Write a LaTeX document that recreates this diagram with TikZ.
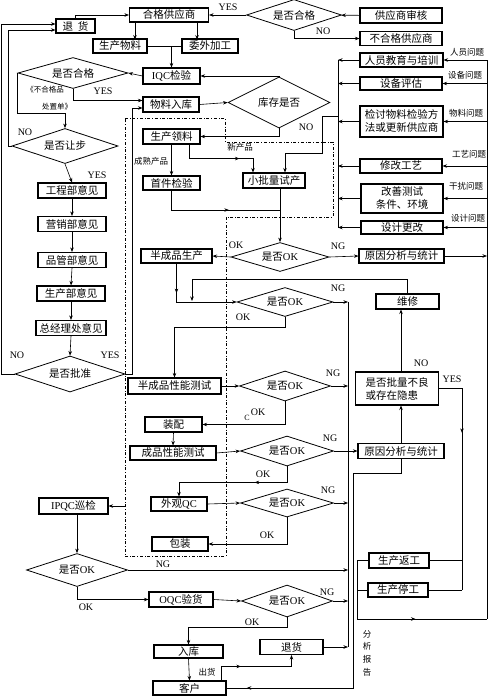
\documentclass[tikz,border=0pt]{standalone}
\usepackage{fontspec}
\setmainfont{Liberation Serif}
\newfontfamily\cjk{Noto Sans CJK SC}
\usetikzlibrary{positioning, arrows.meta, shapes.geometric, calc, decorations.markings}
\newcommand{\ltn}[1]{{\rmfamily #1}}

\begin{document}
\begin{tikzpicture}[x=1pt, y=-1pt,
    box/.style={rectangle, draw=black, line width=1.1pt, inner sep=1pt,
                minimum height=14pt, font=\cjk\fontsize{10.5}{13}\selectfont},
    dia/.style={diamond, draw=black, line width=0.8pt, inner sep=0pt, aspect=3.5,
                font=\cjk\fontsize{10.5}{13}\selectfont},
    arrow/.style={-{Stealth[length=4.5pt, width=3.5pt]}, line width=0.6pt},
    line/.style={line width=0.6pt},
    mid/.style={postaction={decorate}, decoration={markings,
                mark=at position #1 with {\arrow{Stealth[length=4.5pt, width=3.5pt]}}}},
    mid/.default=0.5,
    tag/.style={inner sep=0pt, font=\fontsize{10}{12}\selectfont},
    note/.style={inner sep=0pt, font=\cjk\fontsize{8.5}{10}\selectfont},
    frame/.style={dash dot, line width=0.7pt}
]
\useasboundingbox (0,0) rectangle (500,696);

    % === Suppliers and incoming inspection ===
    \node[box, minimum width=39pt] (thA) at (75.5,26) {退\hspace{5pt}货};
    \node[box, minimum width=79pt] (hgs) at (169,15) {合格供应商};
    \node[dia, minimum width=95pt, minimum height=31pt] (sfhg1) at (294,15) {是否合格};
    \node[box, minimum width=82pt, minimum height=15pt] (gysh) at (401,15.5) {供应商审核};
    \node[box, minimum width=82pt] (bhg) at (401,38.5) {不合格供应商};
    \node[box, minimum width=54pt] (scwl) at (120,46) {生产物料};
    \node[box, minimum width=56pt] (wwjg) at (210,46) {委外加工};
    \node[box, minimum width=57pt, minimum height=16pt] (iqc) at (171.5,76) {\ltn{IQC}检验};
    \node[dia, minimum width=110pt, minimum height=31pt] (sfhg2) at (73,73) {是否合格};
    \node[box, minimum width=56pt, minimum height=15pt] (wlrk) at (171,104.5) {物料入库};
    \node[dia, minimum width=102pt, minimum height=51pt] (kcsf) at (279,102.5) {库存是否};
    \node[dia, minimum width=106pt, minimum height=35pt] (sfrb) at (65,146) {是否让步};

    % === Improvement actions ===
    \node[box, minimum width=83pt] (ry) at (401.5,60) {人员教育与培训};
    \node[box, minimum width=82pt, minimum height=13pt] (sb) at (401,83.5) {设备评估};
    \node[box, minimum width=83pt, minimum height=31pt, align=left] (jt) at (401.5,121.5) {检讨物料检验方\\法或更新供应商};
    \node[box, minimum width=82pt] (xg) at (401,166) {修改工艺};
    \node[box, minimum width=82pt, minimum height=29pt, align=center] (gs) at (402,198.5) {改善测试\\条件、环境};
    \node[box, minimum width=82pt, minimum height=13pt] (sj) at (402,227.5) {设计更改};

    % === Concession approval ===
    \node[box, minimum width=68pt, minimum height=15pt] (gcb) at (72,190.5) {工程部意见};
    \node[box, minimum width=68pt, minimum height=15pt] (yxb) at (72,224) {营销部意见};
    \node[box, minimum width=68pt, minimum height=15pt] (pgb) at (72,260) {品管部意见};
    \node[box, minimum width=68pt, minimum height=15pt] (scb) at (71,293.5) {生产部意见};
    \node[box, minimum width=70pt, minimum height=15pt] (zjl) at (71,328) {总经理处意见};
    \node[dia, minimum width=110pt, minimum height=36pt] (sfpz) at (70,374) {是否批准};

    % === Production ===
    \node[box, minimum width=57pt, minimum height=15pt] (sclr) at (171.5,136.5) {生产领料};
    \node[box, minimum width=57pt] (sjjy) at (171.5,183) {首件检验};
    \node[box, minimum width=62pt, minimum height=15pt] (xpl) at (274,180.5) {小批量试产};
    \node[dia, minimum width=98pt, minimum height=29pt] (d1) at (280,257) {是否\ltn{OK}};
    \node[box, minimum width=71pt] (bcs) at (176.5,256) {半成品生产};
    \node[box, minimum width=85pt] (ra1) at (401.5,256) {原因分析与统计};
    \node[dia, minimum width=96pt, minimum height=29pt] (d2) at (285,302) {是否\ltn{OK}};
    \node[box, minimum width=63pt, minimum height=15pt] (wx) at (407.5,301.5) {维修};
    \node[box, minimum width=93pt, minimum height=16pt] (bxn) at (174.5,386) {半成品性能测试};
    \node[dia, minimum width=91pt, minimum height=30pt] (d3) at (285,386) {是否\ltn{OK}};
    \node[box, minimum width=83pt, minimum height=33pt, align=left] (pl) at (397,388.5) {是否批量不良\\或存在隐患};
    \node[box, minimum width=57pt, minimum height=15pt] (zp) at (173.5,424.5) {装配};
    \node[box, minimum width=86pt] (cxn) at (173,453) {成品性能测试};
    \node[dia, minimum width=93pt, minimum height=30pt] (d4) at (287,451) {是否\ltn{OK}};
    \node[box, minimum width=86pt, minimum height=15pt] (ra2) at (401,451) {原因分析与统计};
    \node[box, minimum width=56pt] (wg) at (179,504) {外观\ltn{QC}};
    \node[dia, minimum width=93pt, minimum height=28pt] (d5) at (287,503) {是否\ltn{OK}};
    \node[box, minimum width=56pt] (bz) at (180,544) {包装};

    % === Outgoing ===
    \node[box, minimum width=69pt, minimum height=16pt] (ipqc) at (73.5,506) {\ltn{IPQC}巡检};
    \node[dia, minimum width=101pt, minimum height=33pt] (d6) at (77,570) {是否\ltn{OK}};
    \node[box, minimum width=60pt, minimum height=15pt] (scfg) at (399,560.5) {生产返工};
    \node[box, minimum width=60pt] (sctg) at (398,590) {生产停工};
    \node[box, minimum width=64pt, minimum height=15pt] (oqc) at (181,599.5) {\ltn{OQC}验货};
    \node[dia, minimum width=91pt, minimum height=32pt] (d7) at (287,601) {是否\ltn{OK}};
    \node[box, minimum width=69pt, minimum height=13pt] (rk) at (188.5,651.5) {入库};
    \node[box, minimum width=63pt, minimum height=15pt] (th2) at (291.5,647) {退货};
    \node[box, minimum width=73pt] (kh) at (189.5,688) {客户};

    % bus lines
    \coordinate (busL) at (338,0);
    \coordinate (busN) at (348,0);
    \coordinate (busY) at (462,0);
    \coordinate (busR) at (487,0);
    \coordinate (busA) at (353,473);
    \coordinate (jn) at (357,619);
    \coordinate (m1) at (280,210);
    \coordinate (m2) at (192,301);
    \coordinate (fr) at (125,506);
    \coordinate (b1) at (busL |- jt.west);

    % dash-dot frame of the production area
    \draw[frame] (125,118) -- (225,118) -- (225,142) -- (333,142) -- (333,217)
        -- (226,217) -- (226,556) -- (125,556) -- cycle;

    % === Connectors: suppliers ===
    \draw[arrow] (gysh) -- (sfhg1);
    \draw[arrow] (sfhg1.west) -- (hgs.east);
    \draw[arrow] (sfhg1.south) |- (bhg.west);
    \draw[arrow] (thA.north) |- (hgs.west);
    \draw[arrow] ([xshift=6pt]hgs.south west) -- +(0,17);
    \draw[arrow] ([xshift=-12pt]hgs.south east) -- +(0,17);
    \draw[line] (scwl.east) -- (wwjg.west);
    \draw[arrow] (scwl.east -| iqc.north) -- (iqc.north);
    \draw[arrow] (iqc.west) -- (sfhg2.east);
    \draw[arrow] (kcsf.north) |- (iqc.east);
    \draw[arrow] (sfhg2.south) |- ([yshift=4pt]wlrk.west);
    \draw[arrow] (sfhg2.west) -- ++(0,40) -| (sfrb.north);
    \draw[arrow] (sfrb.west) -- ++(-3,0) |- ([yshift=-4pt]thA.west);
    \draw[arrow] (wlrk.east) -- (kcsf.west);
    \draw[arrow] (kcsf.south) |- (sclr.east);

    % === Connectors: approval chain ===
    \draw[arrow] (sfrb.south) -- (gcb.north);
    \draw[arrow] (gcb.south) -- (yxb.north);
    \draw[arrow] (yxb.south) -- (pgb.north);
    \draw[arrow] (pgb.south) -- (scb.north);
    \draw[arrow] (scb.south) -- (zjl.north);
    \draw[arrow] (zjl.south) -- (sfpz.north);
    \draw[arrow] (sfpz.west) -- ++(-13,0) |- ([yshift=2pt]thA.west);
    \draw[arrow] (sfpz.east) -- ++(7,0) |- ([yshift=-3.5pt]wlrk.west);

    % === Connectors: improvement buses ===
    \foreach \b in {ry, sb, jt, xg, gs, sj} {
        \draw[arrow] (\b.west) -- (\b.west -| busL);
        \draw[arrow] (\b.east -| busR) -- (\b.east);
    }
    \draw[line] (ry.west -| busL) -- (sj.west -| busL);
    \draw[line] (ry.east -| busR) -- (jn -| busR);
    \draw[arrow] ([yshift=5pt]b1) -- ++(-16,0) -- ++(0,37) -| ([xshift=11pt]xpl.north);

    % === Connectors: production ===
    \draw[arrow] (sclr.south) -- (sjjy.north);
    \draw[arrow, mid=0.7] ([xshift=18pt]sclr.south) -- ++(0,14) -| ([xshift=-21pt]xpl.north);
    \draw[line, mid=0.6] (sjjy.south) |- (m1);
    \draw[arrow] ([xshift=6pt]xpl.south) -- (d1.north);
    \draw[arrow] (d1.west) -- (bcs.east);
    \draw[arrow] (d1.east) -- (ra1.west);
    \draw[arrow] (ra1.east) -- (ra1.east -| busR);
    \draw[arrow, mid=0.3] (bcs.south) |- (d2.west);
    \draw[arrow] (wx.north) -- ++(0,-14) -| (m2);
    \draw[arrow] (d2.east) -- (d2.east -| busN);
    \draw[line] (d2.east -| busN) -- (th2.east -| busN);
    \draw[arrow] (d2.south) -- ++(0,10) -| (bxn.north);
    \draw[arrow] (bxn.east) -- (d3.west);
    \draw[arrow] (d3.east) -- (d3.east -| busN);
    \draw[arrow] (d3.south) |- (zp.east);
    \draw[arrow] (zp.south) -- (cxn.north);
    \draw[arrow] (cxn.east) -- (d4.west);
    \draw[arrow] (d4.east) -- (ra2.west);
    \draw[arrow, mid=0.35] (d4.south) -- ++(0,16) -| (wg.north);
    \draw[arrow] (wg.east) -- (d5.west);
    \draw[arrow] (d5.east) -- (d5.east -| busN);
    \draw[arrow] (d5.south) |- (bz.east);

    % === Connectors: analysis ===
    \draw[arrow] (ra2.north) -- (ra2.north |- pl.south);
    \draw[arrow] (ra2.north |- pl.north) -- (ra2.north |- wx.south);
    \draw[line, mid=0.3] (pl.east) -| (sctg.east -| busY);
    \draw[line] (scfg.east) -- (scfg.east -| busY);
    \draw[line] (sctg.east) -- (sctg.east -| busY);
    \draw[line] (scfg.west) -| (jn);
    \draw[line] (sctg.west) -- (sctg.west -| jn);
    \draw[line, mid=0.45] (jn) -- (jn -| busR);
    \draw[line, mid=0.95] (ra2.south) |- (busA) |- (kh.east);

    % === Connectors: outgoing ===
    \draw[arrow] (fr) -- (ipqc.east);
    \draw[arrow] (d6.north |- ipqc.south) -- (d6.north);
    \draw[arrow] (d6.east) -- (d6.east -| busN);
    \draw[arrow] (d6.south) |- (oqc.west);
    \draw[arrow] (oqc.east) -- (d7.west);
    \draw[arrow] (d7.east) -- (d7.east -| busN);
    \draw[arrow] (d7.south) -- ++(0,10) -| (rk.north);
    \draw[arrow] (rk.south) -- (kh.north);
    \draw[arrow, mid=0.35] ([xshift=32pt]kh.north) -- ++(0,-14) -| (th2.south);
    \draw[arrow] (th2.east) -- (th2.east -| busN);

    % === Labels ===
    \node[tag] (yes1) at (228,7) {YES};
    \node[tag] (no1) at (323,31) {NO};
    \node[tag] (yes2) at (103,91) {YES};
    \node[note, font=\cjk\fontsize{7.5}{9}\selectfont] (bp1) at (45,90) {《不合格品};
    \node[note, font=\cjk\fontsize{7.5}{9}\selectfont] (bp2) at (57,107) {处置单》};
    \node[tag] (no2) at (25,132) {NO};
    \node[tag] (yes3) at (97,175) {YES};
    \node[tag] (no3) at (17,355) {NO};
    \node[tag] (yes4) at (110,355) {YES};
    \node[tag] (no4) at (306,127) {NO};
    \node[note] (xcp) at (240,147) {新产品};
    \node[note] (csp) at (151,161) {成熟产品};
    \node[tag] (ok1) at (236,245) {OK};
    \node[tag] (ng1) at (338,246) {NG};
    \node[tag] (ng2) at (338,288) {NG};
    \node[tag] (ok2) at (243,317) {OK};
    \node[tag] (ng3) at (333,373) {NG};
    \node[tag] (ok3) at (258,412) {OK};
    \node[tag, font=\fontsize{8}{9}\selectfont] (cc) at (247,418) {C};
    \node[tag] (ng4) at (330,438) {NG};
    \node[tag] (ok4) at (263,474) {OK};
    \node[tag] (ng5) at (328,490) {NG};
    \node[tag] (ok5) at (267,535) {OK};
    \node[tag] (ng6) at (163,564) {NG};
    \node[tag] (ok6) at (86,607) {OK};
    \node[tag] (ng7) at (327,592) {NG};
    \node[tag] (ok7) at (252,622) {OK};
    \node[note] (chh) at (207,672) {出货};
    \node[tag] (no5) at (421,363) {NO};
    \node[tag] (yes5) at (452,379) {YES};
    \node[note, align=center, font=\cjk\fontsize{8.5}{12.7}\selectfont] (fxbg) at (367,653) {分\\析\\报\\告};
    \node[note] (q1) at (467,52) {人员问题};
    \node[note] (q2) at (465,75) {设备问题};
    \node[note] (q3) at (466,113) {物料问题};
    \node[note] (q4) at (469,154) {工艺问题};
    \node[note] (q5) at (466,186) {干扰问题};
    \node[note] (q6) at (468,218) {设计问题};

\end{tikzpicture}
\end{document}
